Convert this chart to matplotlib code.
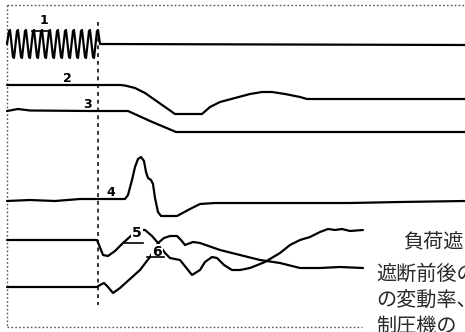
import matplotlib
matplotlib.use("Agg")
import matplotlib.pyplot as plt

plt.rcParams['font.family'] = ['Noto Sans CJK JP', 'DejaVu Sans']

# Oscillograph traces (time axis in chart units, trace deflection in chart units, downwards positive)
# Trace 1: generator voltage oscillation before the load rejection, then flat
t1 = [7, 9, 10, 13, 14, 17, 18, 21, 22, 25, 26, 29, 30, 33, 34, 37, 38, 41, 42, 45, 46, 49, 50,
      53, 54, 57, 58, 61, 62, 65, 66, 69, 70, 73, 74, 77, 78, 81, 82, 85, 86, 89, 90, 93, 94,
      97, 98, 100, 465]
v1 = [44, 31, 30, 57, 58, 31, 30, 57, 58, 31, 30, 57, 58, 31, 30, 57, 58, 31, 30, 57, 58, 31, 30,
      57, 58, 31, 30, 57, 58, 31, 30, 57, 58, 31, 30, 57, 58, 31, 30, 57, 58, 31, 30, 57, 58,
      31, 30, 44, 45]

t2 = [7, 120, 125, 135, 145, 155, 165, 175, 202, 210, 220, 235, 250, 262, 272, 285, 300, 307, 465]
v2 = [85, 85, 85.5, 88, 93, 100, 107, 114, 114, 107, 102, 98, 94, 92, 92, 94, 97, 99, 99]

t3 = [7, 18, 30, 90, 128, 150, 176, 465]
v3 = [111, 109, 110.5, 111, 111, 121, 132, 132]

t4 = [7, 30, 55, 80, 97, 125, 128, 132, 135, 138, 141, 144, 146, 148, 151, 153, 155, 158, 161,
      177, 190, 200, 215, 260, 300, 350, 400, 465]
v4 = [201, 200, 201, 199, 199, 199, 195, 180, 167, 159, 157, 161, 172, 178, 180, 184, 198, 212, 216,
      216, 209, 204, 203, 203, 203, 203, 202, 201]

t5 = [7, 97, 99, 103, 108, 115, 123, 132, 140, 145, 152, 158, 165, 170, 180, 192, 200, 205, 212,
      217, 224, 232, 240, 250, 265, 280, 290, 300, 310, 320, 328, 335, 342, 350, 363]
v5 = [240, 240, 245, 255, 256, 251, 243, 235, 230, 230, 236, 243, 253, 258, 260, 275, 270, 262, 257,
      258, 265, 270, 270, 268, 262, 253, 245, 240, 237, 232, 229, 230, 229, 231, 230]

t6 = [7, 97, 100, 104, 108, 113, 120, 130, 140, 150, 158, 164, 170, 177, 181, 185, 193, 200, 220,
      240, 260, 280, 300, 320, 340, 363]
v6 = [287, 287, 285, 283, 287, 293, 288, 279, 270, 257, 243, 238, 236, 236, 240, 245, 242, 243, 250,
      255, 260, 263, 268, 268, 267, 268]

traces = [(t1, v1), (t2, v2), (t3, v3), (t4, v4), (t5, v5), (t6, v6)]

# Trace numbers and their positions
labels = ["1", "2", "3", "4", "5", "6"]
label_x = [44, 67, 87, 111, 137, 157]
label_y = [21, 79, 104, 192, 233, 252]

caption = ["負荷遮", "遮断前後の", "の変動率、", "制圧機の"]

fig = plt.figure(figsize=(4.65, 3.32), dpi=100)
ax = fig.add_axes([0, 0, 1, 1])
ax.set_xlim(0, 465)
ax.set_ylim(332, 0)
ax.axis('off')

# dotted frame of the record sheet
frame_kw = dict(color='#555555', lw=1.0, linestyle=(0, (1.2, 1.6)))
ax.plot([7, 465], [5, 5], **frame_kw)
ax.plot([7, 7], [5, 327], **frame_kw)
ax.plot([7, 362], [327, 327], **frame_kw)

# instant of load rejection
ax.plot([97.5, 97.5], [22, 305], color='#333333', lw=1.4, linestyle=(0, (2, 2)))

for t, v in traces:
    ax.plot(t, v, color='black', lw=1.6, solid_joinstyle='round', solid_capstyle='round', zorder=2)

for lab, x, y in zip(labels, label_x, label_y):
    masked = lab in ("5", "6")
    size = 10 if masked else 9
    bbox = dict(facecolor='white', edgecolor='none', pad=0.6) if masked else None
    ax.text(x, y, lab, ha='center', va='center', fontsize=size, fontweight='bold',
            family='DejaVu Sans', color='black', bbox=bbox, zorder=3)

# leader lines under trace numbers
ax.plot([32, 50], [31, 31], color='black', lw=1.2)
ax.plot([123, 143], [243, 243], color='black', lw=1.2, zorder=4)
ax.plot([147, 164], [257, 257], color='black', lw=1.2, zorder=4)

# accompanying caption text
cap_x = [403, 376, 376, 376]
cap_y = [243, 274, 300, 326]
for s, x, y in zip(caption, cap_x, cap_y):
    ax.text(x, y, s, ha='left', va='center', fontsize=14.5, color='#2a2a2a')

fig.savefig('out.png', dpi=100)
